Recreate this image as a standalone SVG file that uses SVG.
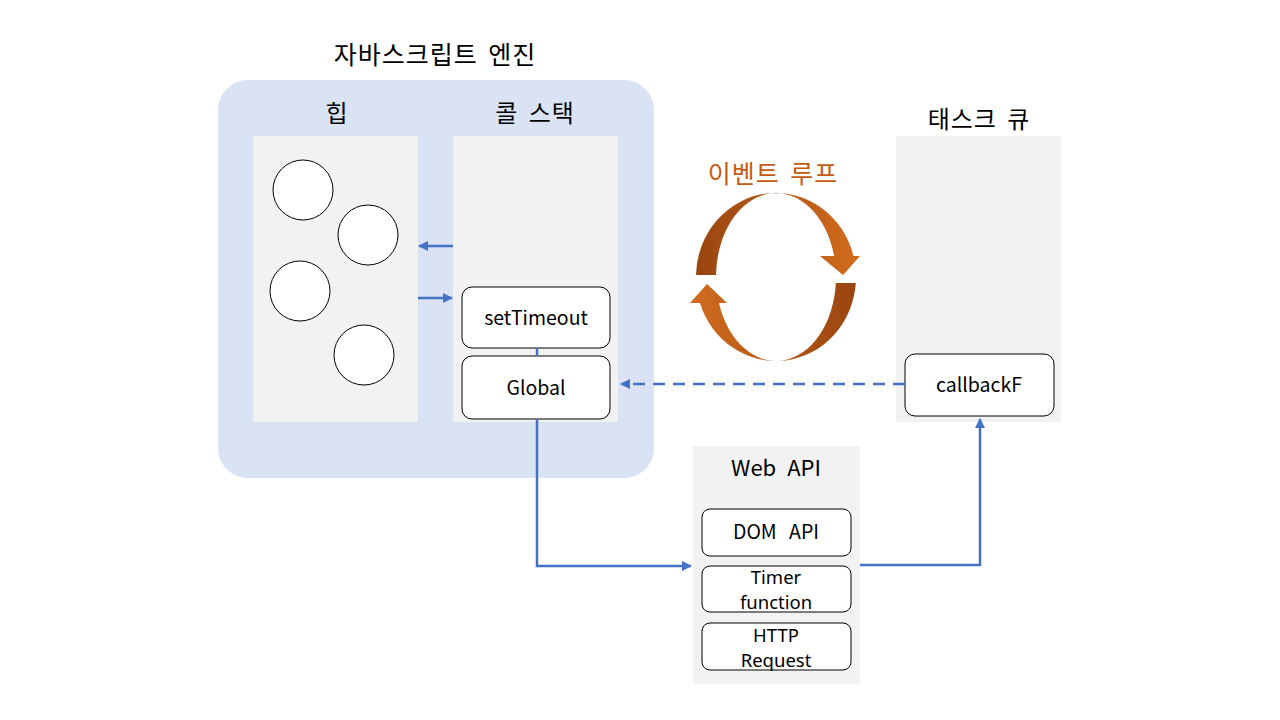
<svg xmlns="http://www.w3.org/2000/svg" width="1280" height="720" viewBox="0 0 1280 720">
<defs>
<style>
.t{font-family:"Noto Sans CJK KR","Noto Sans",sans-serif;fill:#000;text-anchor:middle}
.s{font-family:"Noto Sans",sans-serif;font-size:18.5px;fill:#000;text-anchor:middle}
.k{font-size:24px;letter-spacing:1px;word-spacing:4px}
.panel{fill:#f2f2f2}
.box{fill:#fff;stroke:#000;stroke-width:1}
.c{fill:#fff;stroke:#000;stroke-width:1}
.ln{fill:none;stroke:#4472c4;stroke-width:2.5}
</style>
<marker id="ah" viewBox="0 0 10 10" refX="9" refY="5" markerWidth="4" markerHeight="4" orient="auto" markerUnits="strokeWidth">
<path d="M0,0 L10,5 L0,10 z" fill="#4472c4"/>
</marker>
<linearGradient id="gTop" x1="0" y1="0" x2="1" y2="0">
<stop offset="0" stop-color="#9a4510"/>
<stop offset="1" stop-color="#d26c1e"/>
</linearGradient>
<linearGradient id="gBot" x1="0" y1="0" x2="1" y2="0">
<stop offset="0" stop-color="#d26c1e"/>
<stop offset="1" stop-color="#9a4510"/>
</linearGradient>
</defs>
<rect width="1280" height="720" fill="#fff"/>

<g id="engine">
<rect x="218" y="80" width="436" height="398" rx="30" fill="#dae3f3"/>
<text class="t k" x="435" y="64" style="font-size:25px">자바스크립트 엔진</text>
</g>

<g id="heap">
<rect class="panel" x="253" y="136" width="165" height="286"/>
<text class="t k" x="337" y="122">힙</text>
<circle class="c" cx="303" cy="190" r="30"/>
<circle class="c" cx="368" cy="235" r="30"/>
<circle class="c" cx="300" cy="291" r="30"/>
<circle class="c" cx="364" cy="355" r="30"/>
</g>

<g id="callstack">
<rect class="panel" x="453" y="136" width="165" height="286"/>
<text class="t k" x="535" y="122">콜 스택</text>
</g>

<g id="setTimeout">
<rect class="box" x="462" y="287" width="148" height="61" rx="10"/>
<text class="t" x="536" y="325" font-size="19.5">setTimeout</text>
</g>

<g id="global">
<rect class="box" x="462" y="356" width="148" height="63" rx="10"/>
<text class="t" x="536" y="395" font-size="19.5">Global</text>
</g>

<g id="taskqueue">
<rect class="panel" x="896" y="136" width="165" height="286"/>
<text class="t k" x="979" y="128">태스크 큐</text>
</g>

<g id="callbackF">
<rect class="box" x="905" y="354" width="149" height="62" rx="10"/>
<text class="t" x="979" y="392" font-size="19.5">callbackF</text>
</g>

<g id="webapi">
<rect class="panel" x="693" y="446" width="167" height="238"/>
<text class="t" x="776" y="476" font-size="22" word-spacing="6">Web API</text>
</g>

<g id="domapi">
<rect class="box" x="702" y="509" width="149" height="47" rx="8"/>
<text class="t" x="776" y="539" font-size="19.5" word-spacing="8">DOM API</text>
</g>

<g id="timer">
<rect class="box" x="702" y="566" width="149" height="46" rx="8"/>
<text class="s" x="776" y="584">Timer</text>
<text class="s" x="776" y="609">function</text>
</g>

<g id="http">
<rect class="box" x="702" y="623" width="149" height="47" rx="8"/>
<text class="s" x="776" y="642">HTTP</text>
<text class="s" x="776" y="667">Request</text>
</g>

<g id="eventloop">
<text x="773" y="183" font-size="25" letter-spacing="1" word-spacing="4" font-family="Noto Sans CJK KR,Noto Sans,sans-serif" fill="#c55a11" text-anchor="middle">이벤트 루프</text>
<path d="M696 275 A80 84 0 0 1 853.46 256 L860 256 L843 275 L820 256 L834.09 256 A60 84 0 0 0 716 275 Z" fill="url(#gTop)"/>
<path d="M835.85 283 L855.8 283 A80 84 0 0 1 699.93 303 L690 303 L707 284 L727 303 L718.95 303 A60 84 0 0 0 835.85 283 Z" fill="url(#gBot)"/>
</g>

<g id="connectors">
<line class="ln" x1="453" y1="246" x2="419" y2="246" marker-end="url(#ah)"/>
<line class="ln" x1="418" y1="298" x2="452" y2="298" marker-end="url(#ah)"/>
<line class="ln" x1="537" y1="348" x2="537" y2="356"/>
<polyline class="ln" points="537,419 537,566 691,566" marker-end="url(#ah)"/>
<polyline class="ln" points="860,565 980,565 980,419" marker-end="url(#ah)"/>
<line class="ln" x1="905" y1="384" x2="621" y2="384" stroke-dasharray="12 8" marker-end="url(#ah)"/>
</g>
</svg>
